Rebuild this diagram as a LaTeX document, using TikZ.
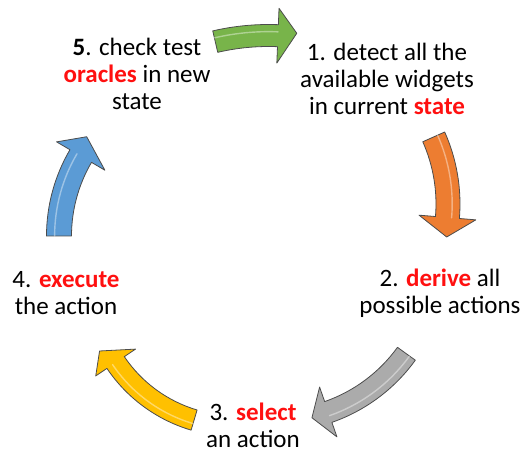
\documentclass[tikz,border=0pt]{standalone}
\usepackage{fontspec}
\setmainfont{Carlito}
\usetikzlibrary{calc}
\definecolor{hlred}{HTML}{FF1010}
\definecolor{agreen}{HTML}{78B44A}
\definecolor{aorange}{HTML}{ED7D31}
\definecolor{agray}{HTML}{ABABAB}
\definecolor{ayellow}{HTML}{FFC000}
\definecolor{ablue}{HTML}{5B9BD5}
\newcommand{\hl}[1]{\textcolor{hlred}{\textbf{#1}}}
% #1 centre, #2 radius, #3 tail angle, #4 head-base angle, #5 tip (angle:radius), #6 half width, #7 head half width, #8 colour
\newcommand{\cycarrow}[8]{%
  \path[arrowbody, fill=#8]
    ($#1+(#3:{#2+#6})$) arc[start angle=#3, end angle=#4, radius={#2+#6}]
    -- ($#1+(#4:{#2+#7})$) -- ($#1+(#5)$) -- ($#1+(#4:{#2-#7})$)
    -- ($#1+(#4:{#2-#6})$) arc[start angle=#4, end angle=#3, radius={#2-#6}]
    -- cycle;
  \draw[gloss] ($#1+(#3:{#2+0.35*#6})$) arc[start angle=#3, end angle=#4, radius={#2+0.35*#6}];
}
\tikzset{
  arrowbody/.style={draw=black!70, line width=0.8pt, line join=round},
  gloss/.style={white, opacity=0.4, line width=1.4pt, line cap=round},
  txt/.style={inner sep=0pt, anchor=base, font=\fontsize{25}{26.6}\selectfont}
}
\begin{document}
\begin{tikzpicture}[x=1pt,y=1pt]
\useasboundingbox (0,0) rectangle (522,454);
% arrows
\cycarrow{(268.5,183.5)}{235}{103.1}{87.7}{83.2:238.9}{11}{27.4}{agreen}
\cycarrow{(283,250)}{165}{24}{-4.7}{-11.4:167}{12}{28.5}{aorange}
\cycarrow{(275,195)}{162}{-35.8}{-70.8}{-76.9:163}{11}{26.4}{agray}
\cycarrow{(235,172)}{144}{253.5}{214}{207:152}{10.5}{24}{ayellow}
\cycarrow{(217,218)}{158}{180}{149.6}{142.7:163.8}{12.5}{28}{ablue}
% texts
\node[txt] (n5) at (137,398) {\begin{tabular}[t]{@{}c@{}}\textbf{5}. check test\\ \hl{oracles} in new\\ state\end{tabular}};
\node[txt] (n1) at (387,393) {\begin{tabular}[t]{@{}c@{}}1. detect all the\\ available widgets\\ in current \hl{state}\end{tabular}};
\node[txt] (n2) at (440,167) {\begin{tabular}[t]{@{}c@{}}2. \hl{derive} all\\ possible actions\end{tabular}};
\node[txt] (n3) at (253,33) {\begin{tabular}[t]{@{}c@{}}3. \hl{select}\\ an action\end{tabular}};
\node[txt] (n4) at (66,166) {\begin{tabular}[t]{@{}c@{}}4. \hl{execute}\\ the action\end{tabular}};
\end{tikzpicture}
\end{document}
